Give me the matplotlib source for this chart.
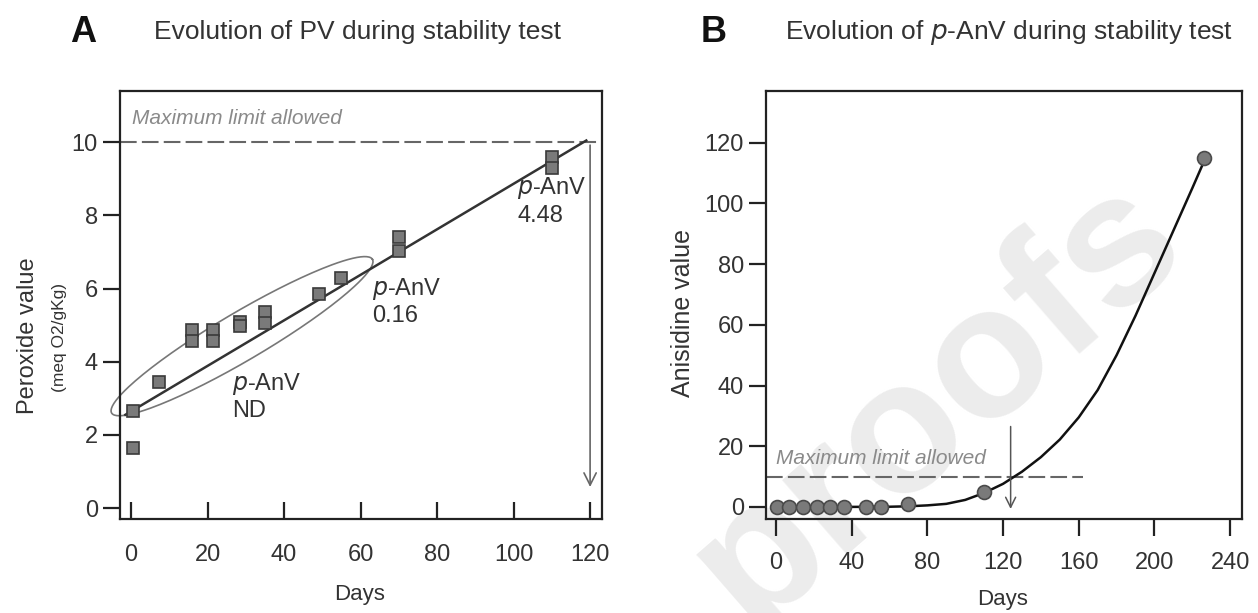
import numpy as np
import matplotlib
matplotlib.use('Agg')
from matplotlib import pyplot as plt

plt.rcParams['font.family'] = ['Liberation Sans', 'DejaVu Sans']

# Panel A: peroxide value
pv_days = [0.4, 0.4, 7.4, 15.9, 15.9, 21.5, 21.5, 28.5, 28.5, 35, 35, 49.2, 55, 70, 70, 110, 110]
pv_values = [2.66, 1.65, 3.46, 4.88, 4.56, 4.88, 4.56, 5.10, 4.97, 5.36, 5.06, 5.86, 6.29,
             7.41, 7.02, 9.61, 9.31]
pv_fit_days = [-1.5, 119]
pv_fit_values = [2.55, 10.05]
pv_limit = 10
pv_limit_day = 120

# Panel B: anisidine value
anv_days = [0.4, 7, 14.4, 21.5, 28.5, 35.9, 47.6, 55.3, 70, 110, 226]
anv_values = [0, 0, 0, 0, 0, 0, 0, 0, 1.1, 4.9, 115]
anv_curve_days = [0, 20, 40, 60, 70, 80, 90, 100, 110, 120, 130, 140, 150, 160, 170,
                  180, 190, 200, 210, 220, 227]
anv_curve_values = [0, 0, 0, 0.05, 0.2, 0.5, 1.0, 2.3, 4.6, 7.6, 11.6, 16.4, 22.2, 29.5,
                    38.5, 50.0, 63.0, 77.0, 91.0, 105.0, 115.0]
anv_limit = 10
anv_limit_day = 124

dark = '#333333'
grey = '#7a7a7a'

fig = plt.figure(figsize=(12.58, 6.13), dpi=100)
axA = fig.add_axes([0.0954, 0.1533, 0.3831, 0.698])
axB = fig.add_axes([0.6089, 0.1533, 0.3784, 0.698])

# watermark
fig.text(0.745, 0.345, 'proofs', fontsize=135, color='#ececec', rotation=41,
         ha='center', va='center', fontweight='bold', zorder=-1)

for ax in (axA, axB):
    ax.set_facecolor('none')
    for s in ax.spines.values():
        s.set_linewidth(1.6)
        s.set_color('#222222')
    ax.tick_params(labelsize=17, labelcolor=dark, width=1.6, length=12, color='#222222')

# ---- A ----
axA.axhline(pv_limit, color='#666666', lw=1.5, dashes=(8, 2.5))
axA.plot(pv_fit_days, pv_fit_values, color=dark, lw=1.8, zorder=3)
axA.plot(pv_days, pv_values, 's', ms=8.5, mfc=grey, mec='#3a3a3a', mew=1.2, zorder=4)
axA.annotate('', xy=(pv_limit_day, 0.5), xytext=(pv_limit_day, pv_limit),
             arrowprops=dict(arrowstyle='->', color='#666666', lw=1.2,
                             mutation_scale=22))

# ellipse round the early points
t = np.linspace(0, 2 * np.pi, 200)
cx, cy = 29.0, 4.70
ax_d, ax_v = 34.1, 2.10
bx_d, bx_v = -3.1, 0.57
axA.plot(cx + ax_d * np.cos(t) + bx_d * np.sin(t),
         cy + ax_v * np.cos(t) + bx_v * np.sin(t),
         color='#777777', lw=1.2, clip_on=False, zorder=2)

axA.text(0.3, 10.65, 'Maximum limit allowed', fontsize=15, style='italic',
         color='#8a8a8a', va='center')
axA.text(26.5, 3.75, '$\\it{p}$-AnV\nND', fontsize=17, color=dark, va='top',
         linespacing=1.2)
axA.text(63, 6.35, '$\\it{p}$-AnV\n0.16', fontsize=17, color=dark, va='top',
         linespacing=1.2)
axA.text(101, 9.1, '$\\it{p}$-AnV\n4.48', fontsize=17, color=dark, va='top',
         linespacing=1.2)

axA.set_xlim(-2.9, 123.1)
axA.set_ylim(-0.3, 11.4)
axA.set_xticks([0, 20, 40, 60, 80, 100, 120])
axA.set_yticks([0, 2, 4, 6, 8, 10])
axA.tick_params(axis='x', direction='in', pad=18)
axA.tick_params(axis='y', direction='out', pad=4)

# ---- B ----
axB.plot([-5.3, 162], [anv_limit, anv_limit], color='#666666', lw=1.5, dashes=(8, 2.5))
axB.plot(anv_curve_days, anv_curve_values, color='#111111', lw=1.8, zorder=3)
axB.plot(anv_days, anv_values, 'o', ms=10, mfc=grey, mec='#4a4a4a', mew=1.2, zorder=4)
axB.annotate('', xy=(anv_limit_day, -1.6), xytext=(anv_limit_day, 27.4),
             arrowprops=dict(arrowstyle='->', color='#555555', lw=1.1,
                             mutation_scale=18))
axB.text(0, 16, 'Maximum limit allowed', fontsize=15, style='italic',
         color='#8a8a8a', va='center')

axB.set_xlim(-5.3, 246.3)
axB.set_ylim(-4, 137)
axB.set_xticks([0, 40, 80, 120, 160, 200, 240])
axB.set_yticks([0, 20, 40, 60, 80, 100, 120])
axB.tick_params(axis='x', direction='out', pad=12)
axB.tick_params(axis='y', direction='out', pad=4)

# titles and labels
fig.text(0.066, 0.947, 'A', fontsize=26, fontweight='bold', color='#111111',
         ha='center', va='center')
fig.text(0.1224, 0.947, 'Evolution of PV during stability test', fontsize=19,
         color=dark, va='center')
fig.text(0.567, 0.947, 'B', fontsize=26, fontweight='bold', color='#111111',
         ha='center', va='center')
fig.text(0.624, 0.947, 'Evolution of $\\it{p}$-AnV during stability test', fontsize=19,
         color=dark, va='center')

fig.text(0.286, 0.03, 'Days', fontsize=16, color=dark, ha='center', va='center')
fig.text(0.797, 0.022, 'Days', fontsize=16, color=dark, ha='center', va='center')
fig.text(0.022, 0.453, 'Peroxide value', fontsize=17, color=dark, rotation=90,
         ha='center', va='center')
fig.text(0.0475, 0.45, '(meq O2/gKg)', fontsize=12.5, color=dark, rotation=90,
         ha='center', va='center')
fig.text(0.543, 0.49, 'Anisidine value', fontsize=18, color=dark, rotation=90,
         ha='center', va='center')

fig.savefig('out.png', dpi=100)
